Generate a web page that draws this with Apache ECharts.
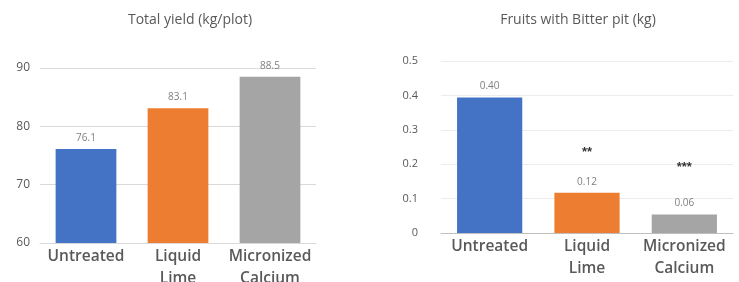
<!DOCTYPE html>
<html>
<head>
<meta charset="utf-8">
<script src="https://cdn.jsdelivr.net/npm/echarts@6/dist/echarts.min.js"></script>
<style>
  html, body { margin: 0; padding: 0; background: #fff; }
  #chart { width: 739px; height: 282px; }
</style>
</head>
<body>
<div id="chart"></div>
<script>
var categories = ['Untreated', 'Liquid\nLime', 'Micronized\nCalcium'];
var barColors = ['#4472c4', '#ed7d31', '#a5a5a5'];

// left panel: total yield
var yieldValues = [76.1, 83.1, 88.5];
var yieldTicks = { min: 60, max: 90, interval: 10 };

// right panel: bitter pit
var pitValues = [0.394, 0.117, 0.054];
var pitLabels = ['0.40', '0.12', '0.06'];
var sigMarks = ['', '**', '***'];
var sigHeights = [null, 0.235, 0.192];
var pitTicks = { min: 0, max: 0.5, interval: 0.1 };

var chart = echarts.init(document.getElementById('chart'));

var font = 'Open Sans';
var catLabel = {
    color: '#595959', fontSize: 15.5, fontWeight: 600, fontFamily: font,
    lineHeight: 22, margin: 3, interval: 0
};

function coloredData(vals) {
    return vals.map(function(v, i) {
        return { value: v, itemStyle: { color: barColors[i] } };
    });
}

chart.setOption({
    animation: false,
    title: [
        { text: 'Total yield (kg/plot)', left: 185, top: 8, textAlign: 'center',
          textStyle: { color: '#595959', fontSize: 14, fontWeight: 'normal', fontFamily: font } },
        { text: 'Fruits with Bitter pit (kg)', left: 573, top: 8, textAlign: 'center',
          textStyle: { color: '#595959', fontSize: 14, fontWeight: 'normal', fontFamily: font } }
    ],
    grid: [
        { left: 40, right: 423, top: 68, bottom: 39, outerBoundsMode: 'none' },
        { left: 441, right: 6, top: 61, bottom: 49, outerBoundsMode: 'none' }
    ],
    xAxis: [
        { type: 'category', gridIndex: 0, data: categories,
          axisLine: { lineStyle: { color: '#d9d9d9' } }, axisTick: { show: false },
          axisLabel: catLabel },
        { type: 'category', gridIndex: 1, data: categories,
          axisLine: { lineStyle: { color: '#bfbfbf' } }, axisTick: { show: false },
          axisLabel: catLabel }
    ],
    yAxis: [
        { type: 'value', gridIndex: 0, min: yieldTicks.min, max: yieldTicks.max, interval: yieldTicks.interval,
          axisLine: { show: false }, axisTick: { show: false },
          axisLabel: { color: '#595959', fontSize: 12, fontFamily: font, margin: 10 },
          splitLine: { lineStyle: { color: '#d9d9d9' } } },
        { type: 'value', gridIndex: 1, min: pitTicks.min, max: pitTicks.max, interval: pitTicks.interval,
          axisLine: { show: false }, axisTick: { show: false },
          axisLabel: { color: '#595959', fontSize: 11, fontFamily: font, margin: 23,
                       formatter: function(v) { return v === 0 ? '0' : v.toFixed(1); } },
          splitLine: { lineStyle: { color: '#ececec' } } }
    ],
    series: [
        { type: 'bar', xAxisIndex: 0, yAxisIndex: 0, barWidth: '66%',
          data: coloredData(yieldValues),
          label: { show: true, position: 'top', distance: 6, color: '#7f7f7f', fontSize: 10, fontFamily: font,
                   formatter: function(p) { return p.value.toFixed(1); } } },
        { type: 'bar', xAxisIndex: 1, yAxisIndex: 1, barWidth: '67%',
          data: coloredData(pitValues),
          label: { show: true, position: 'top', distance: 6, color: '#7f7f7f', fontSize: 10, fontFamily: font,
                   formatter: function(p) { return pitLabels[p.dataIndex]; } } },
        { type: 'scatter', xAxisIndex: 1, yAxisIndex: 1, symbolSize: 0, silent: true,
          data: sigHeights.map(function(h, i) { return h === null ? null : [i, h]; }),
          label: { show: true, position: 'inside', color: '#000', fontSize: 13, fontWeight: 'bold',
                   formatter: function(p) { return sigMarks[p.dataIndex]; } } }
    ]
});
</script>
</body>
</html>
